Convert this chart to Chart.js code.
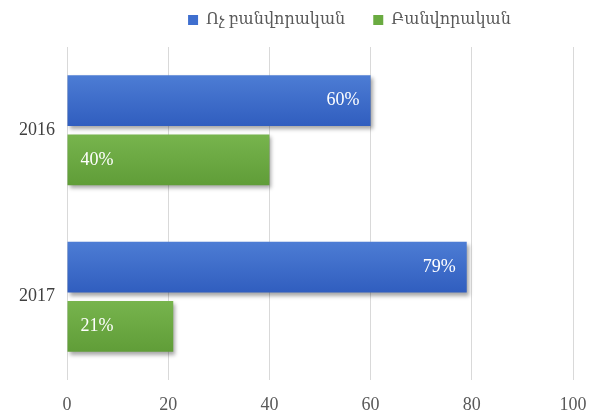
<!DOCTYPE html>
<html>
<head>
<meta charset="utf-8">
<script src="https://cdn.jsdelivr.net/npm/chart.js@4"></script>
<style>
  html, body { margin: 0; padding: 0; background: #fff; }
  #wrap { width: 595px; height: 419px; }
</style>
</head>
<body>
<div id="wrap"><canvas id="c"></canvas></div>
<script>
var years = ['2016', '2017'];
var seriesNames = ['Ոչ բանվորական', 'Բանվորական'];
var nonWorker = [60, 79];
var worker = [40, 21];
var xTicks = [0, 20, 40, 60, 80, 100];

var FONT = "'Liberation Serif', 'DejaVu Serif', serif";
var CAT_PCT = 0.71;

function barGradient(light, dark) {
  return function(c) {
    var chart = c.chart, y = chart.scales.y;
    if (!y || c.dataIndex === undefined) return dark;
    var yc = y.getPixelForValue(c.dataIndex);
    var slot = (y.height / years.length) * CAT_PCT / 2;
    var y0 = c.datasetIndex === 0 ? yc - slot : yc;
    var g = chart.ctx.createLinearGradient(0, y0, 0, y0 + slot);
    g.addColorStop(0, light);
    g.addColorStop(1, dark);
    return g;
  };
}

// legend: fixed height, nudged up and right like the original
var legendNudge = {
  id: 'legendNudge',
  beforeInit: function(chart) {
    var lg = chart.legend;
    var fit = lg.fit;
    lg.fit = function() { fit.call(this); this.height = 47; };
  },
  afterLayout: function(chart) {
    var lg = chart.legend;
    lg.left += 44; lg.right += 44;
    lg.top -= 16; lg.bottom -= 16;
  }
};

var shadowAndLabels = {
  id: 'shadowAndLabels',
  beforeDatasetsDraw: function(chart) {
    var ctx = chart.ctx;
    ctx.save();
    ctx.shadowColor = 'rgba(0,0,0,0.35)';
    ctx.shadowBlur = 4;
    ctx.shadowOffsetX = 2;
    ctx.shadowOffsetY = 3;
  },
  afterDatasetsDraw: function(chart) {
    var ctx = chart.ctx;
    ctx.restore();
    ctx.save();
    ctx.font = '18px ' + FONT;
    ctx.fillStyle = '#ffffff';
    ctx.textBaseline = 'middle';
    chart.data.datasets.forEach(function(ds, di) {
      var meta = chart.getDatasetMeta(di);
      meta.data.forEach(function(bar, i) {
        var txt = ds.data[i] + '%';
        if (di === 0) {
          ctx.textAlign = 'right';
          ctx.fillText(txt, bar.x - 11, bar.y);
        } else {
          ctx.textAlign = 'left';
          ctx.fillText(txt, bar.base + 13, bar.y);
        }
      });
    });
    ctx.restore();
  }
};

new Chart(document.getElementById('c'), {
  type: 'bar',
  data: {
    labels: years,
    datasets: [
      { label: seriesNames[0], data: nonWorker, backgroundColor: barGradient('#4f7fd6', '#2e5bbd'),
        categoryPercentage: CAT_PCT, barPercentage: 0.86 },
      { label: seriesNames[1], data: worker, backgroundColor: barGradient('#79b64f', '#5e9b36'),
        categoryPercentage: CAT_PCT, barPercentage: 0.86 }
    ]
  },
  options: {
    indexAxis: 'y',
    responsive: true, maintainAspectRatio: false,
    animation: false,
    layout: { padding: { left: 16, right: 0, top: 0, bottom: 0 } },
    plugins: {
      legend: {
        position: 'top',
        labels: {
          boxWidth: 10, boxHeight: 10, padding: 28, color: '#595959',
          font: { family: FONT, size: 16 },
          generateLabels: function(chart) {
            var cols = ['#3f6fcf', '#6aab41'];
            return chart.data.datasets.map(function(ds, i) {
              return { text: ds.label, fillStyle: cols[i], strokeStyle: cols[i], lineWidth: 0, datasetIndex: i, fontColor: '#595959' };
            });
          }
        }
      },
      tooltip: { enabled: false }
    },
    scales: {
      x: {
        min: 0, max: 100,
        afterBuildTicks: function(s) { s.ticks = xTicks.map(function(v) { return { value: v }; }); },
        afterFit: function(s) { s.height = 39; s.paddingRight = 22; },
        grid: { color: '#d9d9d9', drawTicks: false },
        border: { display: false },
        ticks: { color: '#595959', padding: 14, font: { family: FONT, size: 18 } }
      },
      y: {
        afterFit: function(s) { s.width = 51; },
        grid: { display: false, drawTicks: false },
        border: { display: false },
        ticks: { color: '#404040', padding: 12, font: { family: FONT, size: 18 } }
      }
    }
  },
  plugins: [legendNudge, shadowAndLabels]
});
</script>
</body>
</html>
